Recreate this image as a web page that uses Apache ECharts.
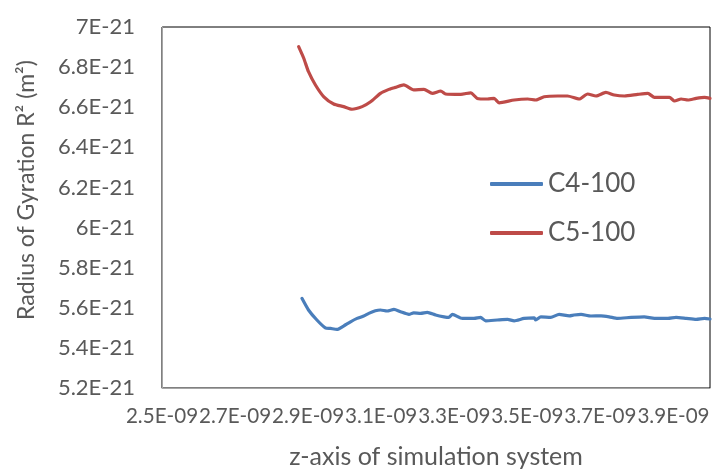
<!DOCTYPE html>
<html>
<head>
<meta charset="utf-8">
<script src="https://cdn.jsdelivr.net/npm/echarts@6/dist/echarts.min.js"></script>
<style>html,body{margin:0;padding:0;background:#fff}#c{width:712px;height:471px}</style>
</head>
<body>
<div id="c"></div>
<script>
// x in units of 1E-09, y in units of 1E-21
const xTicks = [2.5, 2.7, 2.9, 3.1, 3.3, 3.5, 3.7, 3.9];
const yTicks = [5.2, 5.4, 5.6, 5.8, 6.0, 6.2, 6.4, 6.6, 6.8, 7.0];

const c5X = [2.874,2.888,2.901,2.920,2.943,2.970,2.997,3.020,3.048,3.071,3.098,3.121,3.139,3.162,3.189,3.217,3.240,3.263,3.276,3.318,3.345,3.363,3.391,3.409,3.423,3.464,3.501,3.523,3.546,3.583,3.610,3.642,3.665,3.688,3.715,3.738,3.766,3.802,3.830,3.848,3.889,3.903,3.921,3.940,3.962,3.985,4.0];
const c5Y = [6.902,6.844,6.777,6.711,6.652,6.616,6.603,6.590,6.603,6.627,6.669,6.689,6.699,6.711,6.686,6.689,6.669,6.681,6.666,6.664,6.672,6.644,6.641,6.644,6.622,6.636,6.641,6.636,6.652,6.656,6.656,6.641,6.666,6.656,6.674,6.661,6.656,6.664,6.669,6.649,6.649,6.631,6.641,6.636,6.644,6.649,6.644];

const c4X = [2.883,2.901,2.924,2.947,2.961,2.979,2.997,3.016,3.034,3.052,3.066,3.084,3.098,3.116,3.135,3.153,3.176,3.189,3.208,3.226,3.249,3.272,3.285,3.295,3.322,3.354,3.372,3.386,3.418,3.446,3.464,3.491,3.519,3.523,3.537,3.564,3.587,3.615,3.628,3.647,3.674,3.702,3.724,3.747,3.784,3.820,3.848,3.885,3.907,3.935,3.962,3.985,4.0];
const c4Y = [5.647,5.589,5.539,5.500,5.497,5.492,5.509,5.530,5.547,5.559,5.572,5.585,5.589,5.584,5.592,5.580,5.567,5.575,5.572,5.577,5.564,5.555,5.552,5.567,5.547,5.547,5.552,5.535,5.539,5.542,5.535,5.547,5.550,5.539,5.555,5.552,5.567,5.560,5.564,5.567,5.559,5.560,5.555,5.547,5.552,5.555,5.547,5.547,5.552,5.547,5.542,5.547,5.544];

const seriesNames = ['C4-100', 'C5-100'];
const seriesColors = ['#4A7EBB', '#BE4B48'];
const xTitle = 'z-axis of simulation system';
const yTitle = 'Radius of Gyration R² (m²)';

function zip(xs, ys) { return xs.map((x, i) => [x, ys[i]]); }
function fmtX(v) { return v.toFixed(1) + 'E-09'; }
function fmtY(v) { const r = Math.round(v * 10) / 10; return (Number.isInteger(r) ? String(r) : r.toFixed(1)) + 'E-21'; }

const FONT = 'Lato';
const chart = echarts.init(document.getElementById('c'), null, { renderer: 'canvas' });
chart.setOption({
  backgroundColor: '#fff',
  animation: false,
  grid: { left: 162, right: 2, top: 27, bottom: 83, outerBoundsMode: 'none', containLabel: false,
    show: true, borderColor: '#000', borderWidth: 1, backgroundColor: 'transparent' },
  graphic: [{
    type: 'text', x: 27, y: 190, rotation: Math.PI / 2,
    style: { text: yTitle, fontFamily: FONT, fontSize: 23, fill: '#595959', align: 'center', verticalAlign: 'middle' }
  }],
  xAxis: {
    type: 'value', min: xTicks[0], max: 4.0, interval: 0.2,
    name: xTitle, nameLocation: 'middle', nameGap: 56,
    nameTextStyle: { fontFamily: FONT, fontSize: 25, color: '#595959' },
    axisLine: { show: true, lineStyle: { color: '#A6A6A6', width: 1 } },
    axisTick: { show: false }, splitLine: { show: false },
    axisLabel: { fontFamily: FONT, fontSize: 20.6, color: '#595959', margin: 18, showMinLabel: true, showMaxLabel: false, hideOverlap: false,
      formatter: v => xTicks.some(t => Math.abs(t - v) < 1e-6) ? fmtX(v) : '' }
  },
  yAxis: {
    type: 'value', min: yTicks[0], max: yTicks[yTicks.length - 1], interval: 0.2,
    axisLine: { show: true, lineStyle: { color: '#A6A6A6', width: 1 } },
    axisTick: { show: false }, splitLine: { show: false },
    axisLabel: { fontFamily: FONT, fontSize: 22, color: '#595959', margin: 27, showMinLabel: true, showMaxLabel: true, formatter: fmtY }
  },
  legend: {
    orient: 'vertical', left: 490, top: 171, padding: 0,
    itemWidth: 53, itemHeight: 4, itemGap: 23, icon: 'roundRect',
    textStyle: { fontFamily: FONT, fontSize: 26, color: '#595959', lineHeight: 26 },
    data: seriesNames
  },
  series: [
    { name: seriesNames[0], type: 'line', data: zip(c4X, c4Y), showSymbol: false, smooth: 0.2,
      lineStyle: { color: seriesColors[0], width: 3.2, cap: 'round', join: 'round' }, itemStyle: { color: seriesColors[0] } },
    { name: seriesNames[1], type: 'line', data: zip(c5X, c5Y), showSymbol: false, smooth: 0.2,
      lineStyle: { color: seriesColors[1], width: 3.2, cap: 'round', join: 'round' }, itemStyle: { color: seriesColors[1] } }
  ]
});
</script>
</body>
</html>
